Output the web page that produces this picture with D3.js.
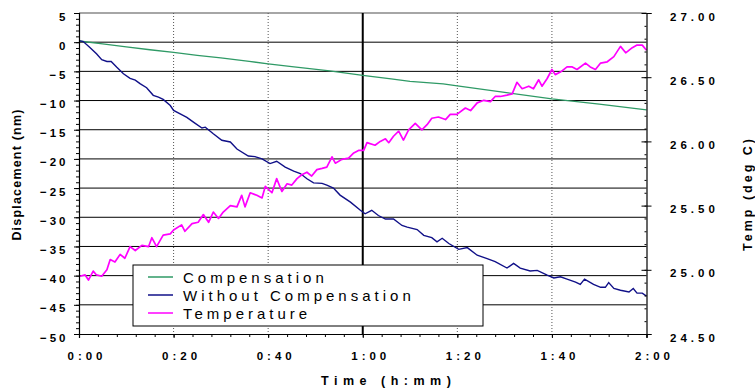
<!DOCTYPE html>
<html>
<head>
<meta charset="utf-8">
<script src="https://cdn.jsdelivr.net/npm/d3@7"></script>
<style>
  body { margin: 0; background: #fff; }
  svg { display: block; font-family: "Liberation Sans", Arial, sans-serif; }
</style>
</head>
<body>
<svg id="chart" width="755" height="392"></svg>
<script>
// time in minutes
var xTicks = [0, 20, 40, 60, 80, 100, 120];
var xTickLabels = ["0:00", "0:20", "0:40", "1:00", "1:20", "1:40", "2:00"];
var leftTicks = [-50, -45, -40, -35, -30, -25, -20, -15, -10, -5, 0, 5];
var rightTicks = [24.5, 25.0, 25.5, 26.0, 26.5, 27.0];
var rightTickLabels = ["24.50", "25.00", "25.50", "26.00", "26.50", "27.00"];
var seriesNames = ["Compensation", "Without Compensation", "Temperature"];

var compTime = [0, 5, 10, 15, 20, 25, 30, 36, 40, 45, 53, 60, 66, 70, 77, 80, 90, 100, 110, 120];
var compVal = [0.2, -0.3, -0.8, -1.3, -1.75, -2.25, -2.7, -3.3, -3.7, -4.2, -4.9, -5.7, -6.3, -6.7, -7.15, -7.5, -8.6, -9.7, -10.6, -11.6];

var woTime = [0, 0.9, 2.3, 3.7, 4.8, 5.9, 6.8, 8.0, 9.4, 10.8, 11.9, 12.9, 14.3, 15.7, 16.8, 17.8, 19.3, 20.0,
  21.4, 22.8, 24.2, 26.0, 26.7, 28.4, 30.2, 32.0, 33.4, 35.8, 37.2, 38.7, 40.4, 41.8, 43.6, 45.4, 46.8, 48.2,
  49.6, 51.4, 52.4, 53.8, 55.2, 57.4, 59.5, 60.5, 61.9, 63.3, 64.8, 66.5, 68.3, 69.4, 71.5, 72.9, 74.6, 75.7,
  76.8, 78.2, 80.3, 82.1, 84.2, 86.3, 88.0, 90.5, 91.9, 93.3, 95.4, 96.9, 99.0, 100.4, 101.8, 103.2, 105.0,
  106.0, 106.9, 108.8, 110.3, 111.3, 112.0, 113.1, 114.5, 116.3, 117.2, 118.0, 119.1, 120.0];
var woVal = [0.26, 0.1, -0.9, -2.0, -3.0, -3.3, -3.3, -4.3, -5.4, -6.2, -6.5, -7.1, -7.8, -9.1, -9.4, -9.8, -10.85, -11.7,
  -12.3, -12.9, -13.7, -14.7, -14.56, -15.7, -16.8, -17.1, -18.3, -19.5, -19.6, -20.0, -20.8, -20.4, -21.4, -22.1, -22.5, -23.4,
  -24.1, -24.2, -24.5, -25.0, -26.2, -27.4, -28.8, -29.4, -28.8, -29.7, -30.3, -30.3, -31.4, -31.7, -32.1, -33.1, -33.5, -34.2,
  -33.6, -34.5, -35.5, -35.2, -36.5, -37.1, -37.6, -38.7, -37.9, -38.7, -39.2, -39.1, -39.9, -40.4, -40.2, -40.6, -41.1,
  -41.5, -40.6, -41.5, -42.0, -42.0, -41.2, -42.2, -42.5, -42.8, -42.2, -43.0, -43.0, -43.5];

var tempTime = [0.2, 1.3, 2.0, 3.0, 3.7, 4.8, 5.9, 6.6, 7.6, 8.7, 9.7, 10.8, 11.9, 13.3, 14.7, 15.4, 16.4, 17.8, 19.3, 20.0,
  21.7, 22.4, 23.9, 25.2, 26.3, 27.4, 28.4, 29.5, 30.5, 32.0, 33.4, 34.4, 35.1, 36.2, 37.6, 38.7, 39.4, 40.8,
  41.8, 42.9, 44.0, 45.0, 46.1, 47.1, 48.2, 49.2, 50.3, 51.4, 52.4, 53.5, 54.2, 55.6, 57.0, 58.1, 59.1, 60.2,
  60.9, 62.6, 63.7, 64.8, 65.5, 66.5, 67.6, 68.6, 69.7, 71.1, 72.5, 73.6, 74.6, 76.0, 77.5, 78.5, 79.9, 81.7,
  82.8, 84.2, 85.6, 87.0, 88.0, 89.1, 90.5, 91.6, 92.6, 93.7, 95.1, 96.1, 97.2, 97.9, 99.0, 100.0, 100.7, 101.8,
  103.2, 104.3, 105.3, 107.1, 108.1, 109.2, 110.3, 111.7, 113.1, 114.5, 115.6, 117.0, 118.0, 119.1, 120.0];
var tempVal = [24.95, 24.96, 24.92, 24.99, 24.96, 24.95, 25.00, 25.08, 25.06, 25.12, 25.09, 25.18, 25.15, 25.19, 25.18, 25.25, 25.18, 25.27, 25.28, 25.31,
  25.35, 25.30, 25.36, 25.37, 25.43, 25.37, 25.45, 25.40, 25.45, 25.50, 25.49, 25.58, 25.49, 25.60, 25.58, 25.56, 25.65, 25.60,
  25.71, 25.61, 25.67, 25.66, 25.71, 25.74, 25.76, 25.73, 25.78, 25.79, 25.80, 25.88, 25.83, 25.86, 25.87, 25.91, 25.93, 25.93,
  25.99, 25.97, 26.00, 26.02, 25.99, 26.04, 26.08, 26.01, 26.09, 26.14, 26.09, 26.13, 26.18, 26.19, 26.17, 26.21, 26.21, 26.26,
  26.24, 26.30, 26.32, 26.31, 26.35, 26.35, 26.36, 26.37, 26.46, 26.41, 26.43, 26.41, 26.48, 26.43, 26.49, 26.56, 26.52, 26.54,
  26.58, 26.58, 26.56, 26.61, 26.58, 26.56, 26.61, 26.62, 26.66, 26.74, 26.69, 26.73, 26.75, 26.75, 26.71];

var colors = ["#2f9a66", "#101088", "#ff00ff"];

var margin = {top: 13, right: 108.5, bottom: 58, left: 79},
    width = 755 - margin.left - margin.right,
    height = 392 - margin.top - margin.bottom;

var svg = d3.select("#chart")
  .append("g")
    .attr("transform", "translate(" + margin.left + "," + margin.top + ")");

var x = d3.scaleLinear().domain([0, 120]).range([0, width]);
var y = d3.scaleLinear().domain([-50, 5]).range([height, 0]);
var y2 = d3.scaleLinear().domain([24.5, 27]).range([height, 0]);

// horizontal grid
svg.selectAll(".hgrid")
    .data(leftTicks.filter(function(d) { return d > -50 && d < 5; }))
  .enter().append("line")
    .attr("x1", 0).attr("x2", width)
    .attr("y1", function(d) { return y(d); })
    .attr("y2", function(d) { return y(d); })
    .attr("stroke", "#000").attr("stroke-width", 1);

// top frame
svg.append("line")
    .attr("x1", 0).attr("x2", width).attr("y1", y(5)).attr("y2", y(5))
    .attr("stroke", "#888").attr("stroke-width", 1.3);

// vertical grid (dotted), 1:00 solid
svg.selectAll(".vgrid")
    .data(xTicks.filter(function(d) { return d > 0 && d < 120; }))
  .enter().append("line")
    .attr("x1", function(d) { return x(d); })
    .attr("x2", function(d) { return x(d); })
    .attr("y1", 0).attr("y2", height)
    .attr("stroke", function(d) { return d == 60 ? "#000" : "#555"; })
    .attr("stroke-width", function(d) { return d == 60 ? 2 : 1; })
    .attr("stroke-dasharray", function(d) { return d == 60 ? null : "1,2"; });

// lines
var lineL = d3.line().x(function(d) { return x(d[0]); }).y(function(d) { return y(d[1]); });
var lineR = d3.line().x(function(d) { return x(d[0]); }).y(function(d) { return y2(d[1]); });

svg.append("path")
    .datum(d3.zip(compTime, compVal))
    .attr("fill", "none").attr("stroke", colors[0]).attr("stroke-width", 1.3)
    .attr("d", lineL);

svg.append("path")
    .datum(d3.zip(woTime, woVal))
    .attr("fill", "none").attr("stroke", colors[1]).attr("stroke-width", 1.4)
    .attr("d", lineL);

svg.append("path")
    .datum(d3.zip(tempTime, tempVal))
    .attr("fill", "none").attr("stroke", colors[2]).attr("stroke-width", 1.7)
    .attr("stroke-linejoin", "round")
    .attr("d", lineR);

// left axis
var minorLeft = d3.range(-50, 6, 1);
svg.append("g")
    .call(d3.axisLeft(y).tickValues(minorLeft).tickSize(3).tickFormat(""))
    .call(function(g) { g.select(".domain").remove(); });
var gl = svg.append("g")
    .call(d3.axisLeft(y).tickValues(leftTicks).tickSize(5).tickPadding(5.5)
      .tickFormat(function(d) { return d3.format("d")(d); }));
gl.select(".domain").attr("stroke-width", 1.2);
gl.selectAll("text")
    .attr("dy", 0).attr("y", 7)
    .attr("font-size", 11.5).attr("font-weight", "bold")
    .attr("letter-spacing", 3).attr("fill", "#000");

// bottom axis
var minorX = d3.range(0, 121, 4);
svg.append("g")
    .attr("transform", "translate(0," + height + ")")
    .call(d3.axisBottom(x).tickValues(minorX).tickSize(3).tickFormat(""))
    .call(function(g) { g.select(".domain").remove(); });
var gb = svg.append("g")
    .attr("transform", "translate(0," + height + ")")
    .call(d3.axisBottom(x).tickValues(xTicks).tickSize(4)
      .tickFormat(function(d, i) { return xTickLabels[i]; }));
gb.select(".domain").attr("stroke-width", 1.2);
gb.selectAll("text")
    .attr("dy", 0).attr("y", 26).attr("x", 7.5)
    .attr("font-size", 11.5).attr("font-weight", "bold")
    .attr("letter-spacing", 4).attr("fill", "#000");

// right axis
var minorRight = d3.range(24.5, 27.001, 0.1);
svg.append("g")
    .attr("transform", "translate(" + width + ",0)")
    .call(d3.axisLeft(y2).tickValues(minorRight).tickSize(2).tickFormat(""))
    .call(function(g) { g.select(".domain").remove(); });
svg.append("g")
    .attr("transform", "translate(" + width + ",0)")
    .call(d3.axisLeft(y2).tickValues(rightTicks).tickSize(5).tickFormat(""))
    .call(function(g) { g.select(".domain").remove(); });
var gr = svg.append("g")
    .attr("transform", "translate(" + width + ",0)")
    .call(d3.axisRight(y2).tickValues(rightTicks).tickSize(5).tickPadding(18.5)
      .tickFormat(function(d, i) { return rightTickLabels[i]; }));
gr.select(".domain").attr("stroke-width", 1.2);
gr.selectAll("text")
    .attr("dy", 0).attr("y", 7)
    .attr("font-size", 11.5).attr("font-weight", "bold")
    .attr("letter-spacing", 4).attr("fill", "#000");

// axis titles
svg.append("text")
    .attr("transform", "translate(-58," + (height / 2 + 1) + ") rotate(-90)")
    .attr("text-anchor", "middle")
    .attr("font-size", 12.5).attr("font-weight", "bold")
    .attr("letter-spacing", 1.2)
    .text("Displacement (nm)");

svg.append("text")
    .attr("transform", "translate(" + (width + 105) + "," + (height / 2 + 20) + ") rotate(-90)")
    .attr("text-anchor", "middle")
    .attr("font-size", 12.5).attr("font-weight", "bold")
    .attr("letter-spacing", 3)
    .text("Temp (deg C)");

svg.append("text")
    .attr("x", width / 2 + 26).attr("y", height + 51)
    .attr("text-anchor", "middle")
    .attr("font-size", 12.5).attr("font-weight", "bold")
    .attr("letter-spacing", 5.5)
    .text("Time (h:mm)");

// legend
var legend = svg.append("g").attr("transform", "translate(54,252)");
legend.append("rect")
    .attr("width", 350).attr("height", 61)
    .attr("fill", "#fff").attr("stroke", "#000").attr("stroke-width", 1);
var item = legend.selectAll(".item")
    .data(seriesNames)
  .enter().append("g")
    .attr("transform", function(d, i) { return "translate(0," + (12 + i * 18) + ")"; });
item.append("line")
    .attr("x1", 15).attr("x2", 40)
    .attr("stroke", function(d, i) { return colors[i]; })
    .attr("stroke-width", 1.5);
item.append("text")
    .attr("x", 50).attr("y", 5.5)
    .attr("font-size", 15).attr("letter-spacing", 4)
    .text(function(d) { return d; });
</script>
</body>
</html>
